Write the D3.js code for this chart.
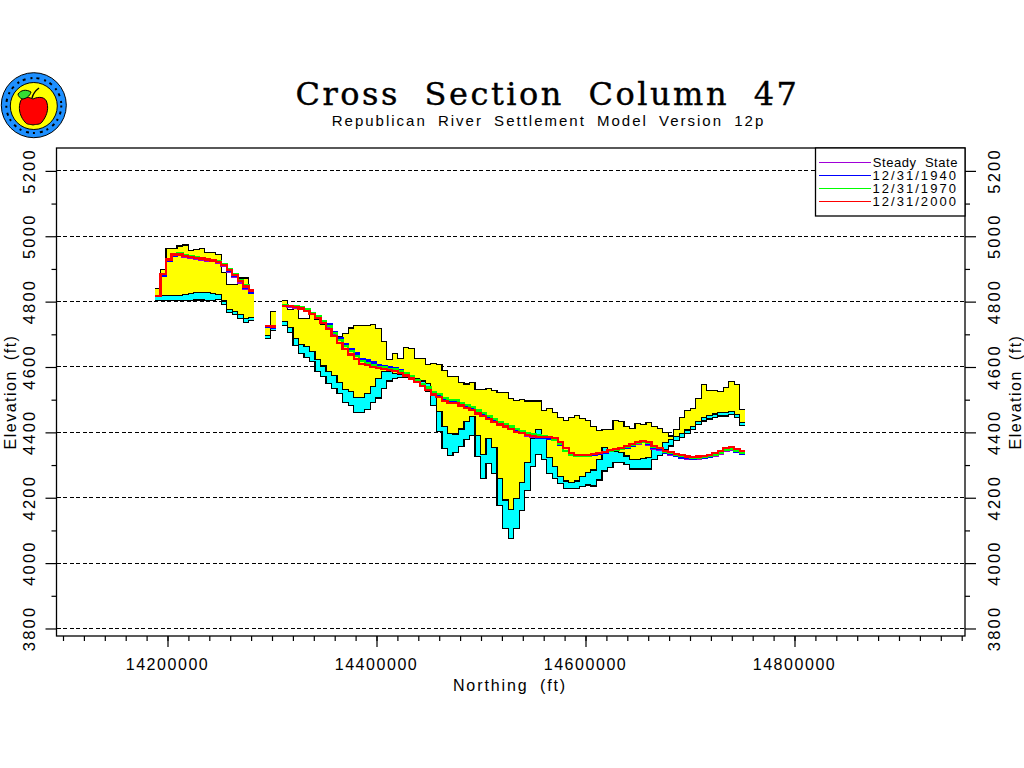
<!DOCTYPE html>
<html>
<head>
<meta charset="utf-8">
<script src="https://d3js.org/d3.v7.min.js"></script>
<style>
  html, body { margin: 0; padding: 0; background: #fff; }
  svg { display: block; }
  text { font-family: "Liberation Sans", sans-serif; fill: #000; white-space: pre; }
</style>
</head>
<body>
<svg id="chart" width="1024" height="768"></svg>
<script>
// grid cells are one mile wide, first cell starts at this northing
var firstNorthing = 14188040;
var cellFeet = 5280;

var landSurface = [
  4841, 4899, 4963, 4963, 4970, 4973, 4957, 4960, 4963, 4951,
  4951, 4945, 4890, 4853, 4853, 4872, 4872, 4838, null, null,
  4726, 4771, null, 4804, 4777, 4780, 4749, 4749, 4761, 4746,
  4731, 4731, 4695, 4693, 4703, 4719, 4727, 4727, 4727, 4730,
  4718, 4678, 4624, 4642, 4627, 4659, 4656, 4627, 4627, 4608,
  4611, 4608, 4589, 4572, 4572, 4553, 4548, 4553, 4532, 4532,
  4535, 4529, 4523, 4523, 4503, 4498, 4501, 4496, 4496, 4496,
  4467, 4474, 4461, 4446, 4437, 4446, 4451, 4442, 4437, 4418,
  4405, 4409, 4409, 4436, 4433, 4418, 4411, 4428, 4425, 4431,
  4418, 4411, 4400, 4389, 4409, 4445, 4467, 4473, 4504, 4547,
  4529, 4529, 4525, 4538, 4555, 4547, 4471
];

var layerTop = [
  4818, 4818, 4818, 4818, 4818, 4823, 4826, 4829, 4829, 4829,
  4826, 4823, 4802, 4777, 4771, 4761, 4748, 4752, null, null,
  4697, 4722, null, 4740, 4722, 4688, 4669, 4663, 4648, 4622,
  4603, 4587, 4574, 4553, 4532, 4526, 4507, 4507, 4520, 4540,
  4565, 4586, 4586, 4581, 4578, 4581, 4571, 4565, 4557, 4550,
  4514, 4463, 4418, 4397, 4395, 4410, 4433, 4448, 4391, 4333,
  4382, 4354, 4259, 4193, 4165, 4198, 4247, 4307, 4382, 4409,
  4382, 4324, 4295, 4265, 4251, 4247, 4251, 4265, 4277, 4285,
  4316, 4354, 4343, 4341, 4338, 4328, 4318, 4318, 4321, 4324,
  4354, 4354, 4370, 4379, 4387, 4397, 4407, 4418, 4433, 4445,
  4451, 4456, 4461, 4461, 4463, 4455, 4431
];

var aquiferBase = [
  4803, 4803, 4803, 4803, 4803, 4803, 4803, 4805, 4805, 4803,
  4803, 4807, 4792, 4767, 4760, 4749, 4737, 4742, null, null,
  4688, 4712, null, 4728, 4706, 4666, 4642, 4630, 4617, 4587,
  4572, 4550, 4534, 4518, 4492, 4482, 4462, 4462, 4471, 4492,
  4505, 4535, 4557, 4565, 4569, 4569, 4562, 4562, 4540, 4525,
  4482, 4402, 4351, 4330, 4339, 4356, 4377, 4390, 4326, 4259,
  4305, 4275, 4177, 4106, 4076, 4106, 4160, 4221, 4295, 4333,
  4316, 4275, 4259, 4244, 4229, 4229, 4229, 4234, 4239, 4236,
  4254, 4282, 4293, 4308, 4308, 4302, 4288, 4288, 4288, 4288,
  4316, 4329, 4346, 4358, 4374, 4384, 4397, 4409, 4423, 4435,
  4441, 4445, 4450, 4450, 4455, 4445, 4421
];

var headSteady = [
  4816, 4878, 4925, 4940, 4943, 4937, 4934, 4930, 4928, 4926,
  4924, 4920, 4908, 4892, 4875, 4857, 4840, 4828, null, null,
  4724, 4719, null, 4786, 4785, 4782, 4778, 4771, 4761, 4750,
  4736, 4722, 4702, 4684, 4668, 4652, 4638, 4622, 4617, 4611,
  4605, 4602, 4598, 4595, 4588, 4578, 4566, 4554, 4542, 4531,
  4518, 4510, 4500, 4494, 4491, 4484, 4477, 4471, 4460, 4452,
  4443, 4433, 4426, 4420, 4412, 4404, 4397, 4390, 4387, 4383,
  4382, 4380, 4378, 4362, 4342, 4330, 4327, 4327, 4327, 4330,
  4333, 4337, 4342, 4345, 4349, 4353, 4360, 4366, 4370, 4362,
  4349, 4346, 4337, 4332, 4327, 4323, 4320, 4318, 4319, 4321,
  4324, 4329, 4335, 4344, 4347, 4340, 4334
];

var head1940 = [
  4817, 4880, 4924, 4941, 4944, 4939, 4936, 4933, 4931, 4928,
  4925, 4922, 4912, 4895, 4880, 4862, 4843, 4828, null, null,
  4724, 4720, null, 4788, 4786, 4784, 4780, 4773, 4763, 4753,
  4739, 4730, 4707, 4687, 4671, 4655, 4641, 4625, 4620, 4614,
  4607, 4604, 4600, 4597, 4590, 4580, 4568, 4555, 4544, 4532,
  4519, 4512, 4501, 4495, 4492, 4485, 4478, 4472, 4461, 4453,
  4444, 4434, 4427, 4421, 4413, 4405, 4398, 4391, 4388, 4384,
  4383, 4381, 4379, 4363, 4343, 4331, 4328, 4328, 4328, 4331,
  4334, 4338, 4343, 4346, 4350, 4354, 4360, 4367, 4371, 4364,
  4351, 4348, 4338, 4333, 4328, 4322, 4321, 4320, 4321, 4323,
  4326, 4330, 4336, 4345, 4348, 4341, 4335
];

var head1970 = [
  4818, 4885, 4930, 4945, 4947, 4941, 4938, 4935, 4933, 4930,
  4927, 4924, 4915, 4899, 4885, 4865, 4850, 4833, null, null,
  4725, 4723, null, 4790, 4787, 4785, 4782, 4776, 4766, 4755,
  4741, 4725, 4704, 4683, 4665, 4648, 4634, 4619, 4612, 4606,
  4601, 4599, 4595, 4593, 4587, 4580, 4571, 4559, 4548, 4537,
  4524, 4517, 4506, 4500, 4498, 4491, 4484, 4478, 4467, 4459,
  4450, 4440, 4432, 4426, 4418, 4410, 4404, 4398, 4394, 4391,
  4389, 4385, 4378, 4364, 4344, 4332, 4329, 4329, 4329, 4333,
  4336, 4340, 4344, 4347, 4350, 4355, 4361, 4367, 4371, 4367,
  4355, 4351, 4341, 4336, 4331, 4327, 4324, 4322, 4323, 4325,
  4328, 4332, 4338, 4347, 4350, 4344, 4338
];

var head2000 = [
  4818, 4884, 4929, 4944, 4944, 4940, 4937, 4934, 4932, 4929,
  4926, 4921, 4911, 4897, 4881, 4863, 4846, 4834, null, null,
  4726, 4724, null, 4787, 4787, 4784, 4779, 4772, 4761, 4749,
  4734, 4717, 4695, 4673, 4655, 4638, 4624, 4608, 4605, 4601,
  4598, 4595, 4591, 4588, 4581, 4574, 4565, 4553, 4542, 4530,
  4516, 4509, 4497, 4491, 4489, 4482, 4475, 4469, 4458, 4450,
  4441, 4431, 4424, 4418, 4410, 4402, 4397, 4392, 4389, 4387,
  4387, 4385, 4382, 4370, 4351, 4336, 4331, 4331, 4331, 4335,
  4338, 4341, 4346, 4349, 4353, 4358, 4365, 4370, 4374, 4370,
  4358, 4353, 4344, 4339, 4334, 4330, 4326, 4325, 4326, 4328,
  4331, 4336, 4343, 4353, 4356, 4350, 4344
];

var legendLabels = ["Steady  State", "12/31/1940", "12/31/1970", "12/31/2000"];
var legendColors = ["#a000d8", "#0000ff", "#00ff00", "#ff0000"];
var headSeries = [headSteady, head1940, head1970, head2000];

var gridElevations = [3800, 4000, 4200, 4400, 4600, 4800, 5000, 5200];
var minorElevations = [3900, 4100, 4300, 4500, 4700, 4900, 5100];
var majorNorthings = [14200000, 14400000, 14600000, 14800000];

var svg = d3.select("#chart");

var left = 56.5, right = 965, top_ = 148, bottom = 636;

var x = d3.scaleLinear().domain([14093780, 14963160]).range([left, right]);
var y = d3.scaleLinear().domain([3777, 5270]).range([bottom, top_]);

// one entry per cell edge, the blocks between missing cells are drawn apart
function cellBlocks() {
  var blocks = [], current = null;
  landSurface.forEach(function(v, i) {
    if (v === null) { current = null; return; }
    if (!current) { current = []; blocks.push(current); }
    current.push(i);
  });
  return blocks;
}
function edges(block) {
  var last = block[block.length - 1];
  return block.map(function(i) { return { i: i, at: i }; }).concat([{ i: last, at: last + 1 }]);
}
function northing(d) { return firstNorthing + d.at * cellFeet; }

function stepLine(values) {
  return d3.line().curve(d3.curveStepAfter)
    .x(function(d) { return x(northing(d)); })
    .y(function(d) { return y(values[d.i]); });
}
function stepArea(upper, lower) {
  return d3.area().curve(d3.curveStepAfter)
    .x(function(d) { return x(northing(d)); })
    .y0(function(d) { return y(lower[d.i]); })
    .y1(function(d) { return y(upper[d.i]); });
}

// dashed grid goes under everything
svg.append("g").selectAll("line").data(gridElevations).join("line")
  .attr("x1", left).attr("x2", right)
  .attr("y1", function(d) { return y(d); }).attr("y2", function(d) { return y(d); })
  .attr("stroke", "#000").attr("stroke-width", 1).attr("stroke-dasharray", "4 2.5")
  .attr("shape-rendering", "crispEdges");

var blocks = cellBlocks().map(edges);
var fills = svg.append("g").attr("shape-rendering", "crispEdges");
blocks.forEach(function(b) {
  fills.append("path").attr("d", stepArea(landSurface, layerTop)(b)).attr("fill", "#ffff00");
  fills.append("path").attr("d", stepArea(layerTop, aquiferBase)(b)).attr("fill", "#00ffff");
});
[landSurface, layerTop, aquiferBase].forEach(function(values) {
  blocks.forEach(function(b) {
    fills.append("path").attr("d", stepLine(values)(b))
      .attr("fill", "none").attr("stroke", "#000").attr("stroke-width", 1.2);
  });
});

var heads = svg.append("g").attr("shape-rendering", "crispEdges");
headSeries.forEach(function(values, s) {
  blocks.forEach(function(b) {
    heads.append("path").attr("d", stepLine(values)(b))
      .attr("fill", "none").attr("stroke", legendColors[s]).attr("stroke-width", 2.2);
  });
});

// frame and axes
svg.append("rect").attr("x", left).attr("y", top_)
  .attr("width", right - left).attr("height", bottom - top_)
  .attr("fill", "none").attr("stroke", "#000").attr("stroke-width", 1.3);

function noLabels(axis) {
  axis.select(".domain").remove();
  axis.selectAll("text").remove();
  axis.selectAll("line").attr("stroke-width", 1.2);
}

var minorNorthings = d3.range(14100000, 14960001, 20000);
svg.append("g").attr("transform", "translate(0," + bottom + ")")
  .call(d3.axisBottom(x).tickValues(minorNorthings).tickSize(5)).call(noLabels);
svg.append("g").attr("transform", "translate(0," + bottom + ")")
  .call(d3.axisBottom(x).tickValues(majorNorthings).tickSize(11)).call(noLabels);
[[d3.axisLeft, left], [d3.axisRight, right]].forEach(function(a) {
  svg.append("g").attr("transform", "translate(" + a[1] + ",0)")
    .call(a[0](y).tickValues(gridElevations).tickSize(11)).call(noLabels);
  svg.append("g").attr("transform", "translate(" + a[1] + ",0)")
    .call(a[0](y).tickValues(minorElevations).tickSize(5)).call(noLabels);
});

// tick labels
svg.append("g").selectAll("text").data(majorNorthings).join("text")
  .attr("x", function(d) { return x(d); }).attr("y", 670)
  .attr("text-anchor", "middle").attr("font-size", 16).attr("letter-spacing", 1.55)
  .text(function(d) { return d; });

[35, 1000].forEach(function(px) {
  svg.append("g").selectAll("text").data(gridElevations).join("text")
    .attr("transform", function(d) { return "translate(" + px + "," + y(d) + ") rotate(-90)"; })
    .attr("text-anchor", "middle").attr("font-size", 16.5).attr("letter-spacing", 2.2)
    .text(function(d) { return d; });
});

// axis titles
svg.append("text").attr("x", 510).attr("y", 691).attr("text-anchor", "middle")
  .attr("font-size", 16).attr("letter-spacing", 1.9).attr("word-spacing", 5).text("Northing (ft)");
[15.5, 1021].forEach(function(px) {
  svg.append("text").attr("transform", "translate(" + px + ",392) rotate(-90)")
    .attr("text-anchor", "middle").attr("font-size", 16).attr("letter-spacing", 1.5)
    .attr("word-spacing", 4).text("Elevation (ft)");
});

// titles
svg.append("text").attr("x", 547.5).attr("y", 104.5).attr("text-anchor", "middle")
  .style("font-family", "'DejaVu Serif', serif")
  .attr("font-size", 32).attr("letter-spacing", 2.5).attr("word-spacing", 12)
  .attr("stroke", "#000").attr("stroke-width", 0.4)
  .text("Cross Section Column 47");
svg.append("text").attr("x", 548.5).attr("y", 126).attr("text-anchor", "middle")
  .attr("font-size", 15).attr("letter-spacing", 2).attr("word-spacing", 5)
  .text("Republican River Settlement Model Version 12p");

// legend
var legend = svg.append("g");
legend.append("rect").attr("x", 815.5).attr("y", top_).attr("width", right - 815.5).attr("height", 68)
  .attr("fill", "#fff").attr("stroke", "#000").attr("stroke-width", 1.3);
var legendY = d3.scalePoint().domain(legendLabels).range([162, 201]);
legendLabels.forEach(function(label, i) {
  legend.append("line").attr("x1", 819).attr("x2", 871)
    .attr("y1", legendY(label)).attr("y2", legendY(label))
    .attr("stroke", legendColors[i]).attr("stroke-width", 1).attr("shape-rendering", "crispEdges");
  legend.append("text").attr("x", 958).attr("y", legendY(label) + 5).attr("text-anchor", "end")
    .attr("font-size", 13).attr("letter-spacing", i == 0 ? 0.55 : 2.05).text(label);
});

// apple logo in the corner
var logo = svg.append("g");
logo.append("circle").attr("cx", 33.8).attr("cy", 105.2).attr("r", 32.5)
  .attr("fill", "#1e90ff").attr("stroke", "#000").attr("stroke-width", 1);
logo.append("circle").attr("cx", 33.8).attr("cy", 105.5).attr("r", 27.5)
  .attr("fill", "none").attr("stroke", "#000").attr("stroke-width", 2).attr("stroke-dasharray", "2 4 3 5");
logo.append("circle").attr("cx", 33.8).attr("cy", 106).attr("r", 23.5)
  .attr("fill", "#ffff00").attr("stroke", "#000").attr("stroke-width", 1);
logo.append("path")
  .attr("d", "M33 99C27 96 21 97 20 103C18 110 21 118 25 122C27 125 30 124 33 125C36 124 40 125 42 122C46 117 49 110 47 103C46 97 39 96 33 99Z")
  .attr("fill", "#ff0000").attr("stroke", "#000").attr("stroke-width", 1);
logo.append("path")
  .attr("d", "M18 94C21 90 26 89 31 92C30 96 26 99 22 99C20 98 18 96 18 94Z")
  .attr("fill", "#33dd33").attr("stroke", "#000").attr("stroke-width", 1);
logo.append("path").attr("d", "M32 98C33 94 35 91 39 88")
  .attr("fill", "none").attr("stroke", "#000").attr("stroke-width", 1.4);
</script>
</body>
</html>
